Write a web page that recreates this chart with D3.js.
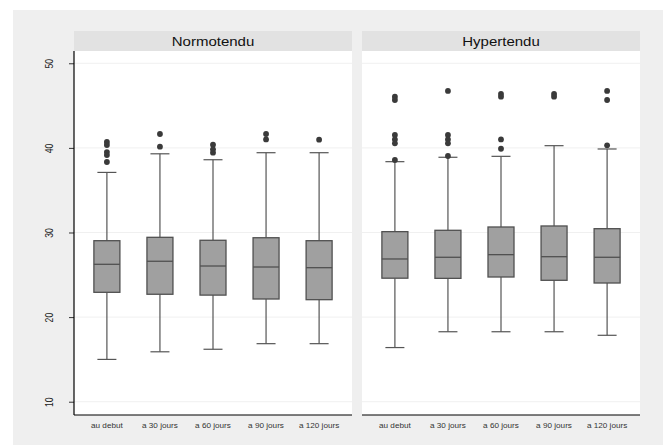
<!DOCTYPE html>
<html>
<head>
<meta charset="utf-8">
<script src="https://cdn.jsdelivr.net/npm/d3@7"></script>
<style>
  body { margin: 0; background: #fff; }
  text { font-family: "Liberation Sans", Arial, sans-serif; }
</style>
</head>
<body>
<svg id="chart" width="670" height="446"></svg>
<script>
// donnees
const groupes = ["Normotendu", "Hypertendu"];
const temps = ["au debut", "a 30 jours", "a 60 jours", "a 90 jours", "a 120 jours"];
const yTicks = [10, 20, 30, 40, 50];

const q1 = [
  [22.93, 22.7, 22.6, 22.14, 22.06],
  [24.6, 24.58, 24.74, 24.35, 24.03]
];
const mediane = [
  [26.24, 26.6, 26.04, 25.92, 25.84],
  [26.87, 27.07, 27.38, 27.14, 27.07]
];
const q3 = [
  [29.03, 29.43, 29.08, 29.38, 29.03],
  [30.1, 30.26, 30.65, 30.77, 30.45]
];
const moustacheBas = [
  [15.0, 15.9, 16.2, 16.86, 16.86],
  [16.4, 18.27, 18.27, 18.27, 17.85]
];
const moustacheHaut = [
  [37.1, 39.3, 38.6, 39.43, 39.43],
  [38.37, 38.89, 39.0, 40.26, 39.87]
];
const extremes = [
  [
    [40.7, 40.34, 39.5, 39.15, 38.33],
    [41.64, 40.14],
    [40.38, 39.83, 39.43],
    [41.64, 41.0],
    [40.97]
  ],
  [
    [46.05, 45.66, 41.52, 41.0, 40.54, 38.57],
    [46.73, 41.52, 41.0, 40.54, 39.04],
    [46.37, 46.05, 41.0, 39.9],
    [46.37, 46.05],
    [46.73, 45.66, 40.3]
  ]
];

const svg = d3.select("#chart");
const etire = 1.22; // le graphique d'origine est un peu etire en largeur

function elargir(sel) {
  sel.each(function () {
    const w = this.getComputedTextLength();
    d3.select(this)
      .attr("textLength", w * etire)
      .attr("lengthAdjust", "spacingAndGlyphs");
  });
}

svg.append("rect")
  .attr("x", 13).attr("y", 10)
  .attr("width", 650).attr("height", 435)
  .attr("fill", "#efefef");

const haut = 51, bas = 415;
const y = d3.scaleLinear().domain([8.43, 51.45]).range([bas, haut]);
const panels = [[74, 352], [362, 640]];

groupes.forEach((g, gi) => {
  const [x0, x1] = panels[gi];
  const x = d3.scalePoint().domain(temps).range([x0, x1]).padding(0.62);
  const p = svg.append("g");

  p.append("rect")
    .attr("x", x0).attr("y", 31)
    .attr("width", x1 - x0).attr("height", 20)
    .attr("fill", "#e2e2e2");
  p.append("text")
    .attr("x", (x0 + x1) / 2).attr("y", 45.5)
    .attr("text-anchor", "middle")
    .attr("font-size", 12.3)
    .attr("fill", "#111")
    .text(g)
    .call(elargir);

  p.append("rect")
    .attr("x", x0).attr("y", haut)
    .attr("width", x1 - x0).attr("height", bas - haut)
    .attr("fill", "#fff");

  p.selectAll("line.grid")
    .data(yTicks)
    .join("line")
    .attr("class", "grid")
    .attr("x1", x0).attr("x2", x1)
    .attr("y1", d => y(d)).attr("y2", d => y(d))
    .attr("stroke", "#f0f0f0")
    .attr("stroke-width", 1);

  const boites = temps.map((t, i) => ({
    t,
    q1: q1[gi][i], med: mediane[gi][i], q3: q3[gi][i],
    lo: moustacheBas[gi][i], hi: moustacheHaut[gi][i],
    out: extremes[gi][i]
  }));

  const b = p.selectAll("g.box").data(boites).join("g").attr("class", "box");
  const bw = 26, cw = 19;

  b.append("line")
    .attr("x1", d => x(d.t)).attr("x2", d => x(d.t))
    .attr("y1", d => y(d.q3)).attr("y2", d => y(d.hi))
    .attr("stroke", "#555").attr("stroke-width", 1.2);
  b.append("line")
    .attr("x1", d => x(d.t)).attr("x2", d => x(d.t))
    .attr("y1", d => y(d.q1)).attr("y2", d => y(d.lo))
    .attr("stroke", "#555").attr("stroke-width", 1.2);
  b.append("line")
    .attr("x1", d => x(d.t) - cw / 2).attr("x2", d => x(d.t) + cw / 2)
    .attr("y1", d => y(d.hi)).attr("y2", d => y(d.hi))
    .attr("stroke", "#555").attr("stroke-width", 1.2);
  b.append("line")
    .attr("x1", d => x(d.t) - cw / 2).attr("x2", d => x(d.t) + cw / 2)
    .attr("y1", d => y(d.lo)).attr("y2", d => y(d.lo))
    .attr("stroke", "#555").attr("stroke-width", 1.2);
  b.append("rect")
    .attr("x", d => x(d.t) - bw / 2).attr("width", bw)
    .attr("y", d => y(d.q3)).attr("height", d => y(d.q1) - y(d.q3))
    .attr("fill", "#a0a0a0")
    .attr("stroke", "#505050").attr("stroke-width", 1.3);
  b.append("line")
    .attr("x1", d => x(d.t) - bw / 2).attr("x2", d => x(d.t) + bw / 2)
    .attr("y1", d => y(d.med)).attr("y2", d => y(d.med))
    .attr("stroke", "#505050").attr("stroke-width", 1.3);

  b.selectAll("circle")
    .data(d => d.out.map(v => ({ t: d.t, v })))
    .join("circle")
    .attr("cx", d => x(d.t)).attr("cy", d => y(d.v))
    .attr("r", 2.9)
    .attr("fill", "#3a3a3a");

  // axe x
  p.append("line")
    .attr("x1", x0).attr("x2", x1)
    .attr("y1", bas).attr("y2", bas)
    .attr("stroke", "#000").attr("stroke-width", 1.2);
  p.selectAll("text.xlab")
    .data(temps)
    .join("text")
    .attr("class", "xlab")
    .attr("x", d => x(d)).attr("y", 427.5)
    .attr("text-anchor", "middle")
    .attr("font-size", 6.7)
    .attr("fill", "#333")
    .text(d => d)
    .call(elargir);
});

// axe y
const yAxis = d3.axisLeft(y).tickValues(yTicks).tickSize(5);
const ya = svg.append("g").attr("transform", "translate(74,0)").call(yAxis);
ya.select(".domain").remove();
ya.selectAll(".tick line").attr("stroke", "#333");
ya.selectAll(".tick text")
  .attr("font-size", 8.6)
  .attr("fill", "#222")
  .attr("transform", `scale(${etire},1) rotate(-90)`)
  .attr("x", 0)
  .attr("dy", 0)
  .attr("y", -17)
  .attr("text-anchor", "middle");
svg.append("line")
  .attr("x1", 74).attr("x2", 74)
  .attr("y1", haut).attr("y2", bas)
  .attr("stroke", "#000").attr("stroke-width", 1.2);
</script>
</body>
</html>
